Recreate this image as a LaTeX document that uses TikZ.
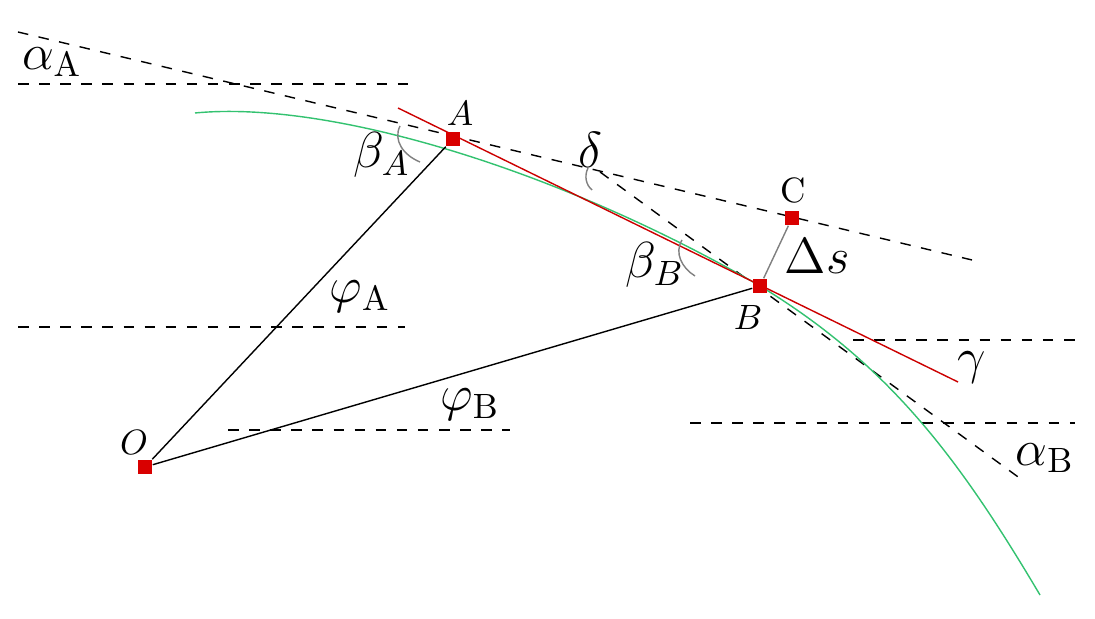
\documentclass[tikz,border=0pt]{standalone}
\begin{document}
\begin{tikzpicture}[x=0.01cm,y=-0.01cm,
  dsh/.style={dashed,thin},
  pt/.style={fill=red!85!black,minimum size=4pt,inner sep=0pt},
  lbl/.style={font=\Large},
  small/.style={font=\normalsize},
  arcl/.style={gray,thin}]
\useasboundingbox (0,0) rectangle (1095,619);
\fill[white] (0,0) rectangle (1095,619);
% horizontal dashed lines
\draw[dsh] (18,84) -- (408,84);
\draw[dsh] (18,327) -- (405,327);
\draw[dsh] (228,430) -- (510,430);
\draw[dsh] (853,340) -- (1075,340);
\draw[dsh] (690,423) -- (1075,423);
% tangents
\draw[dsh] (18,32) -- (972,260);
\draw[dsh] (600,172) -- (1025,482);
% curve
\draw[teal!60!green!80!white] (195,113) .. controls (330,100) and (560,170) .. (760,286) .. controls (890,365) and (960,460) .. (1040,595);
% red chord
\draw[red!80!black] (398,108) -- (958,382);
\node[pt] (O) at (145,467) {};
\node[pt] (A) at (453,139) {};
\node[pt] (B) at (760,286) {};
\node[pt] (C) at (792,218) {};
\draw[thin] (O) -- (A);
\draw[thin] (O) -- (B);
\draw[gray] (B) -- (C);
% angle arcs
\draw[arcl] (400,126) .. controls (393,140) and (403,155) .. (420,162);
\draw[arcl] (588,168) .. controls (584,176) and (586,185) .. (592,190);
\draw[arcl] (682,240) .. controls (674,253) and (682,268) .. (695,276);
% labels
\node[lbl] at (52,62) {$\alpha_{\mathrm A}$};
\node[lbl] at (382,155) {$\beta_A$};
\node[small] at (460,113) {$A$};
\node[lbl] at (590,150) {$\delta$};
\node[small] at (793,190) {C};
\node[lbl] at (817,256) {$\Delta s$};
\node[lbl] at (655,265) {$\beta_B$};
\node[lbl] at (360,297) {$\varphi_{\mathrm A}$};
\node[small] at (748,317) {$B$};
\node[lbl] at (972,368) {$\gamma$};
\node[lbl] at (470,405) {$\varphi_{\mathrm B}$};
\node[small] at (134,442) {$O$};
\node[lbl] at (1045,458) {$\alpha_{\mathrm B}$};
\end{tikzpicture}
\end{document}
